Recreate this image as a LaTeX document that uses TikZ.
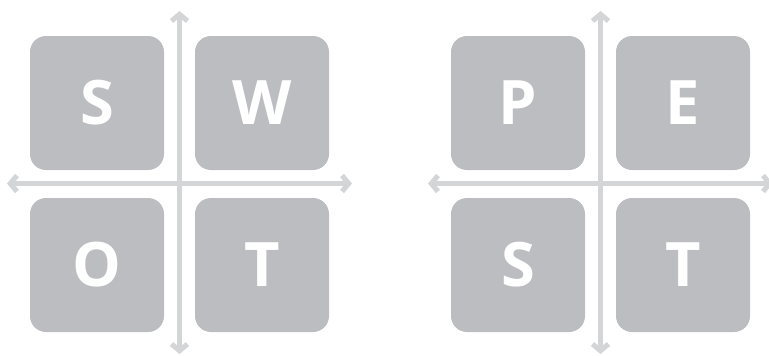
\documentclass[tikz,border=0pt]{standalone}
\usepackage{fontspec}
\setmainfont{Open Sans}
\usetikzlibrary{arrows.meta}

\definecolor{boxgrey}{RGB}{188,189,192}
\definecolor{axisgrey}{RGB}{212,213,215}

\tikzset{every picture/.style={line width=0.75pt}}
\tikzset{
  quadbox/.style={fill=boxgrey, rounded corners=12pt, minimum width=100.5pt, minimum height=100.5pt, inner sep=0pt, text=white, font=\fontsize{46}{46}\selectfont\bfseries},
  axisline/.style={draw=axisgrey, line width=3.8pt, {Straight Barb[length=5pt, width=12pt]}-{Straight Barb[length=5pt, width=12pt]}}
}

\begin{document}
\begin{tikzpicture}[x=0.75pt,y=0.75pt,yscale=-1,xscale=1]
\useasboundingbox (0,0) rectangle (769,355);

% SWOT
\node [quadbox] (swS) at (97,103) {S};
\node [quadbox] (swW) at (262,103) {W};
\node [quadbox] (swO) at (97,265) {O};
\node [quadbox] (swT) at (262,265) {T};
\coordinate (swtop) at (179.5,11);
\coordinate (swbot) at (179.5,354);
\coordinate (swleft) at (7,183.5);
\coordinate (swright) at (352,183.5);
\draw [axisline] (swtop) -- (swbot);
\draw [axisline] (swleft) -- (swright);

% PEST
\node [quadbox] (peP) at (518,103) {P};
\node [quadbox] (peE) at (683,103) {E};
\node [quadbox] (peS) at (518,265) {S};
\node [quadbox] (peT) at (683,265) {T};
\coordinate (petop) at (600.5,11);
\coordinate (pebot) at (600.5,354);
\coordinate (peleft) at (428,183.5);
\coordinate (peright) at (773,183.5);
\draw [axisline] (petop) -- (pebot);
\draw [axisline] (peleft) -- (peright);

\end{tikzpicture}
\end{document}
